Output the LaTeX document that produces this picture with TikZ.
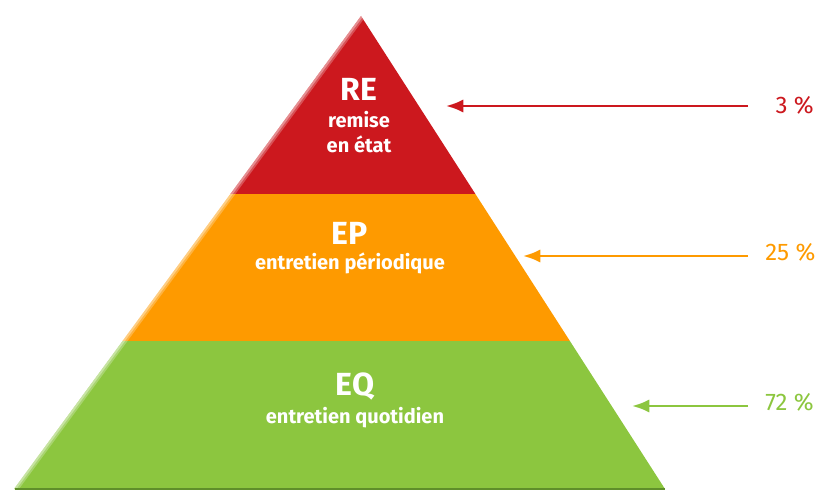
\documentclass[tikz,border=0pt]{standalone}
\usepackage{fontspec}
\setmainfont{Fira Sans}
\usetikzlibrary{positioning,arrows.meta}

\begin{document}
\begin{tikzpicture}[x=0.75pt,y=-0.75pt]
       \definecolor{red}{HTML}{CC181E}
       \definecolor{orange}{HTML}{FE9A00}
       \definecolor{green}{HTML}{8CC63F}
       \definecolor{darkgreen}{HTML}{5F8F2A}
       \tikzstyle{title}     = [text=white, inner sep=0pt, font=\bfseries\fontsize{24}{25}\selectfont]
       \tikzstyle{desc}      = [text=white, inner sep=0pt, align=center, font=\bfseries\fontsize{15}{18.5}\selectfont]
       \tikzstyle{share}     = [inner sep=0pt, font=\fontsize{18}{19}\selectfont]
       \tikzstyle{connector} = [line width=2pt, -{Latex[length=13pt,width=10pt]}]
       \tikzstyle{sheen}     = [white, line cap=round]

       \useasboundingbox (0,0) rectangle (821,491);

       % pyramid layers
       \fill [green]  (122.6,341) -- (569.9,341) -- (665,489) -- (14,489) -- cycle;
       \fill [orange] (230.4,194) -- (475.4,194) -- (569.9,341) -- (122.6,341) -- cycle;
       \fill [red]    (361,16) -- (475.4,194) -- (230.4,194) -- cycle;
       \begin{scope}
         \clip (361,16) -- (665,489) -- (14,489) -- cycle;
         \draw [sheen, opacity=0.25, line width=6pt] (361,16) -- (14,489);
         \draw [sheen, opacity=0.35, line width=3pt] (361,16) -- (14,489);
       \end{scope}
       \draw [darkgreen, line width=1.5pt] (14.5,488.5) -- (664.5,488.5);

       \node [title] (re) at (359,89) {RE};
       \node [desc, below = 8pt of re] (redesc) {remise\\en état};
       \node [title] (ep) at (350,233) {EP};
       \node [desc, below = 6pt of ep] (epdesc) {entretien périodique};
       \node [title] (eq) at (355,386) {EQ};
       \node [desc, below = 5pt of eq] (eqdesc) {entretien quotidien};

       \node [share, text=red, anchor=east]    (rate3)  at (814,105) {3 \%};
       \node [share, text=orange, anchor=west] (rate25) at (765,252) {25 \%};
       \node [share, text=green, anchor=west]  (rate72) at (765,402) {72 \%};

       \coordinate (tipre) at (446,106);
       \coordinate (tipep) at (523,256);
       \coordinate (tipeq) at (632,406);
       \draw [connector, red]    (748,106) -- (tipre);
       \draw [connector, orange] (748,256) -- (tipep);
       \draw [connector, green]  (748,406) -- (tipeq);
     \end{tikzpicture}
\end{document}
